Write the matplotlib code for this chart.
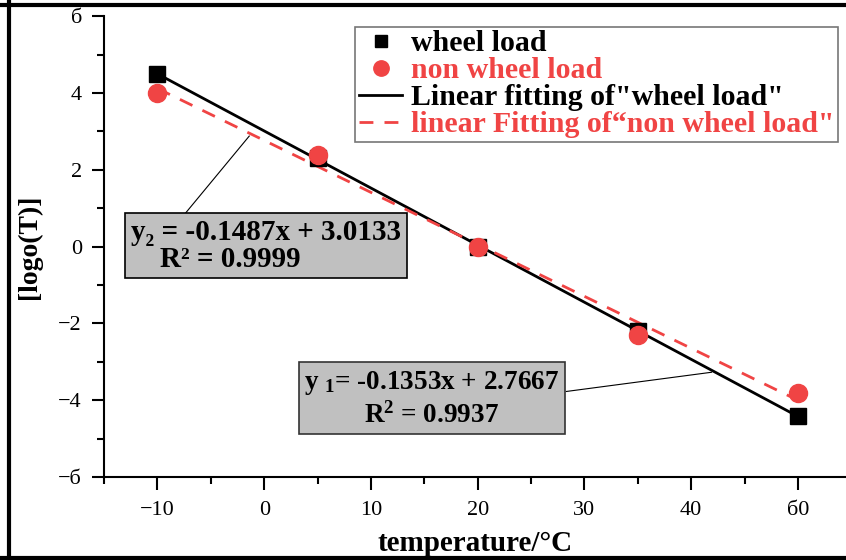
import numpy as np
import matplotlib
matplotlib.use("Agg")
import matplotlib.pyplot as plt
from matplotlib.lines import Line2D
from matplotlib.ticker import MultipleLocator, FixedLocator

plt.rcParams['font.family'] = ['Liberation Serif', 'DejaVu Serif']
plt.rcParams['mathtext.fontset'] = 'custom'
plt.rcParams['mathtext.rm'] = 'Liberation Serif:bold'
plt.rcParams['mathtext.it'] = 'Liberation Serif:bold'
plt.rcParams['mathtext.bf'] = 'Liberation Serif:bold'

temps = [-10, 5, 20, 35, 50]
wheel = [4.5, 2.3, 0.0, -2.2, -4.4]
non_wheel = [4.0, 2.4, 0.0, -2.3, -3.8]

x_ticks = [-10, 0, 10, 20, 30, 40, 50]
x_tick_labels = ["\u221210", "0", "10", "20", "30", "40", "б0"]
y_ticks = [-6, -4, -2, 0, 2, 4, 6]
y_tick_labels = ["\u2212б", "\u22124", "\u22122", "0", "2", "4", "б"]

eq2 = "y\u2082 = -0.1487x + 3.0133\n    R\u00b2 = 0.9999"
eq1 = "y $_1$= -0.1353x + 2.7667\nR$^2$ = 0.9937"

RED = '#f04444'

fig = plt.figure(figsize=(8.46, 5.6), dpi=100)
ax = fig.add_axes([0.123, 0.148, 0.877, 0.823])

xs = np.array(temps, dtype=float)
p_w = np.polyfit(xs, wheel, 1)
p_n = np.polyfit(xs, non_wheel, 1)
xl = np.array([min(temps), max(temps)], dtype=float)

ax.plot(xl, np.polyval(p_w, xl), color='black', lw=2, zorder=2,
        label='Linear fitting of"wheel load"')
ax.plot(xl, np.polyval(p_n, xl), color=RED, lw=2, ls=(0, (5, 4)), zorder=2,
        label='linear Fitting of\u201cnon wheel load"')
ax.plot(temps, wheel, 's', color='black', ms=11, zorder=3, label='wheel load')
ax.plot(temps, non_wheel, 'o', color=RED, ms=13, zorder=4, label='non wheel load')

ax.set_xlim(-15, 54.5)
ax.set_ylim(-6, 6)
ax.xaxis.set_major_locator(FixedLocator(x_ticks))
ax.set_xticklabels(x_tick_labels)
ax.yaxis.set_major_locator(FixedLocator(y_ticks))
ax.set_yticklabels(y_tick_labels)
ax.xaxis.set_minor_locator(MultipleLocator(5))
ax.yaxis.set_minor_locator(MultipleLocator(1))
ax.tick_params(which='major', direction='out', length=9, width=1.5, labelsize=16)
ax.tick_params(axis='y', which='major', pad=7)
ax.tick_params(axis='x', which='major', pad=8)
ax.tick_params(which='minor', direction='out', length=5, width=1.5)
for s in ['top', 'right']:
    ax.spines[s].set_visible(False)
for s in ['left', 'bottom']:
    ax.spines[s].set_linewidth(1.5)

ax.set_xlabel('temperature/\u00b0C', fontsize=21, fontweight='bold')
ax.set_ylabel('[logo(T)]', fontsize=20, fontweight='bold')
ax.xaxis.set_label_coords(0.5, -0.145)
ax.xaxis.label.set_va('center')
ax.yaxis.set_label_coords(-0.1, 0.5)
ax.yaxis.label.set_va('center')

# annotation boxes
ax.plot([-7.5, -1.4], [0.83, 2.88], color='black', lw=0.8, zorder=1)
ax.plot([28.3, 41.9], [-3.77, -3.27], color='black', lw=0.8, zorder=1)
ax.text(0.2, 0.03, eq2, fontsize=21, fontweight='bold', ha='center', va='center',
        multialignment='left', linespacing=1.0,
        bbox=dict(boxstyle='square,pad=0.2', facecolor='#c0c0c0', edgecolor='black', lw=1.2),
        zorder=5)
ax.text(15.7, -3.97, eq1, fontsize=19.5, fontweight='bold', ha='center', va='center',
        multialignment='center', linespacing=1.25,
        bbox=dict(boxstyle='square,pad=0.2', facecolor='#c0c0c0', edgecolor='#333333', lw=1.2),
        zorder=5)

h, l = ax.get_legend_handles_labels()
order = [2, 3, 0, 1]
leg = ax.legend([h[i] for i in order], [l[i] for i in order],
                loc='upper right', bbox_to_anchor=(0.991, 0.952),
                bbox_transform=fig.transFigure,
                prop={'family': 'Liberation Serif', 'weight': 'bold', 'size': 21.5},
                labelcolor=['black', RED, 'black', RED],
                frameon=True, fancybox=False, edgecolor='#555555',
                handlelength=1.45, handletextpad=0.3, borderpad=0.12,
                labelspacing=0.0, borderaxespad=0, markerscale=0.85)
leg.get_frame().set_linewidth(1.2)

# figure border lines
fig.add_artist(Line2D([0, 1], [1 - 5 / 560, 1 - 5 / 560], color='black', lw=3, transform=fig.transFigure))
fig.add_artist(Line2D([9 / 846, 9 / 846], [0, 1], color='black', lw=3, transform=fig.transFigure))
fig.add_artist(Line2D([0, 1], [2.5 / 560, 2.5 / 560], color='black', lw=3, transform=fig.transFigure))

fig.savefig('out.png', dpi=100)
